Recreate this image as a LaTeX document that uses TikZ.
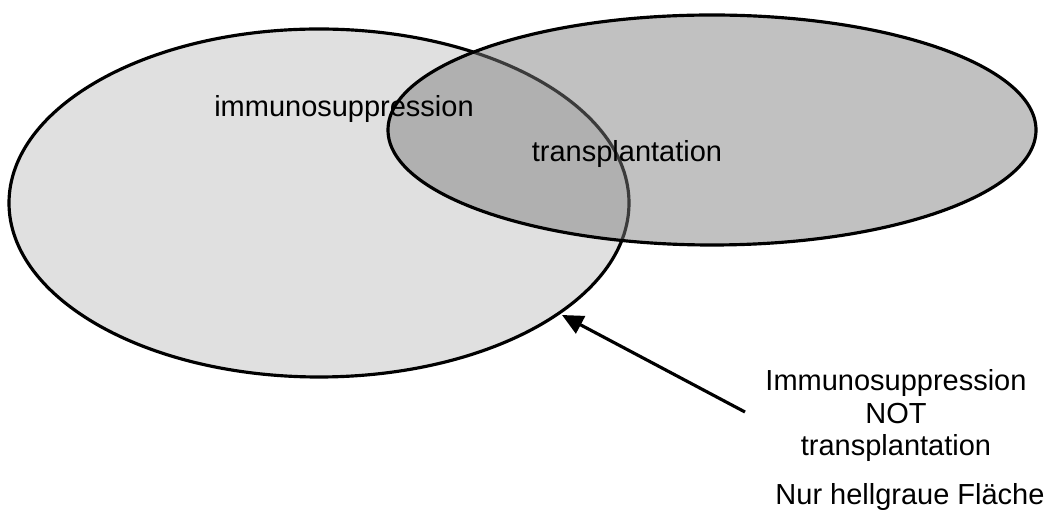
\documentclass[tikz,border=0pt]{standalone}
\usepackage{fontspec}
\setmainfont{Liberation Sans}
\usetikzlibrary{arrows.meta, positioning}
\definecolor{lightset}{gray}{0.878}
\definecolor{darkset}{gray}{0.49}

\begin{document}
\begin{tikzpicture}[x=0.02cm, y=-0.02cm,
    setline/.style={line width=1.8pt, draw=black},
    label/.style={font=\fontsize{16.5}{18.7}\selectfont, text=black, inner sep=0pt},
    note/.style={label, align=center},
    arrow/.style={line width=1.8pt, -{Triangle[length=12pt, width=11pt]}}]
    \useasboundingbox (0,0) rectangle (1049,516);
    % left set: light grey
    \fill [lightset] (319,203) ellipse [x radius=310, y radius=174];
    \draw [setline] (319,203) ellipse [x radius=310, y radius=174];
    % right set: transparent grey on top
    \fill [darkset, fill opacity=0.48] (712,130) ellipse [x radius=324, y radius=115];
    \draw [setline] (712,130) ellipse [x radius=324, y radius=115];

    \node [label, anchor=base] (immu) at (344,117) {immunosuppression};
    \node [label, anchor=base] (trans) at (627,162) {transplantation};
    \node [note, anchor=base] (notnode) at (896,456) {Immunosuppression\\NOT\\transplantation};
    \node [label, anchor=base] (only) at (910,505) {Nur hellgraue Fläche};

    \coordinate (tail) at (745,412);
    \coordinate (tip) at (562,315);
    \draw [arrow] (tail) -- (tip);
\end{tikzpicture}
\end{document}
